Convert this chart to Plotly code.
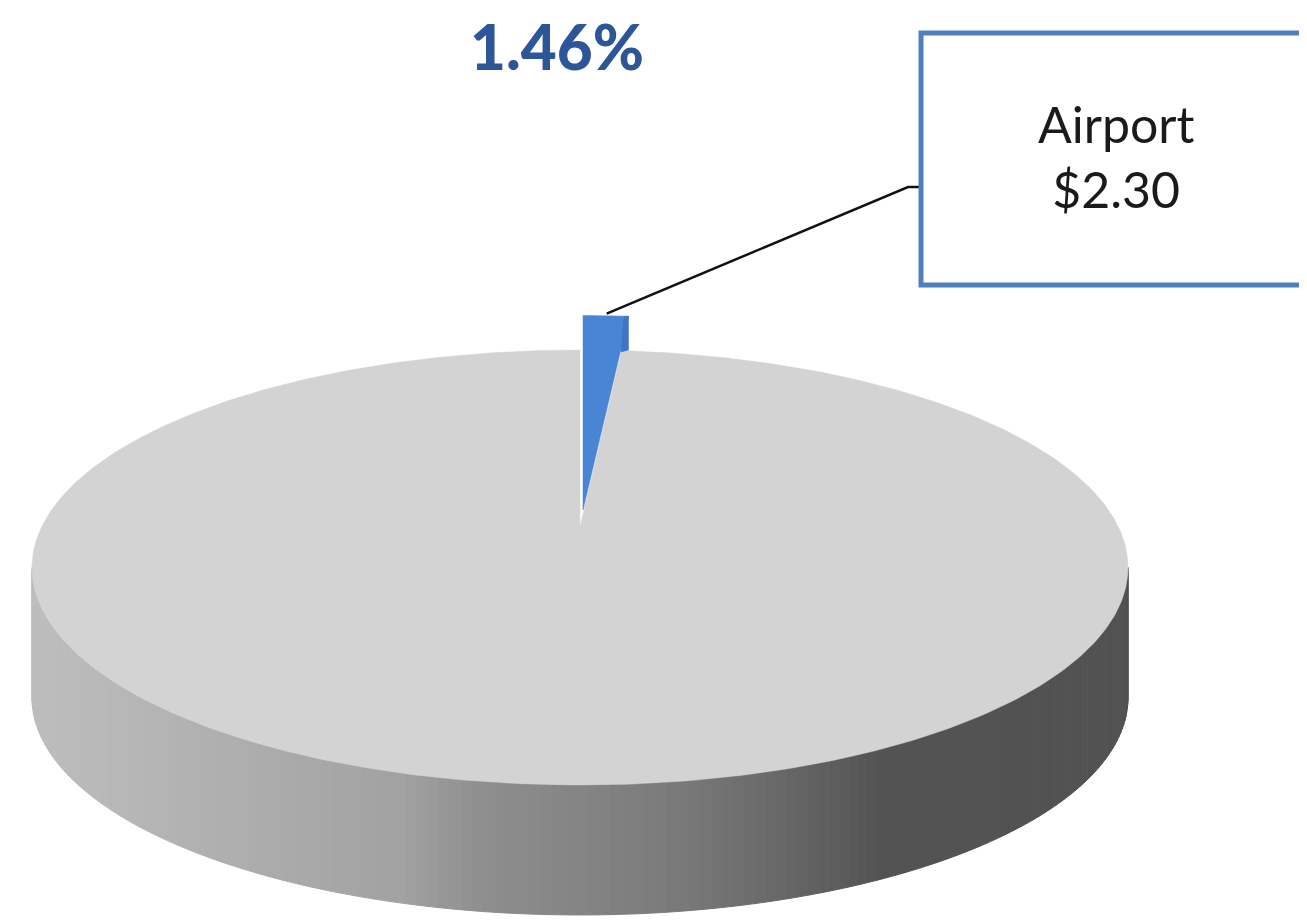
import numpy as np
import plotly.graph_objects as go

# ---------------------------------------------------------------
# data
# ---------------------------------------------------------------
categories = ["Airport", "Other"]
values = [2.30, 155.23]          # Airport is 1.46% of the total
slice_colors = ["#4a85d5", "#d3d3d3"]

total = sum(values)
fracs = [v / total for v in values]
pct_label = f"{fracs[0] * 100:.2f}%"
value_label = f"{categories[0]}<br>${values[0]:.2f}"

# ---------------------------------------------------------------
# 3d pie geometry (perspective view of a flat cylinder, pixel space)
# ---------------------------------------------------------------
W, H = 1307, 923
PAD = 8           # page body margin, so data units == page pixels
CX = 580          # screen x of pie centre
CY = 527          # screen y of pie centre (projected)
K = 0.1862        # perspective strength
T = -111.8
S = 538.4
DEPTH = 130       # thickness of the pie in px
BLUE_SCALE = 1.12
BLUE_DX, BLUE_LIFT = 3, 17


def proj(X, Z):
    w = 1 + K * Z
    return CX + S * X / w, (CY + T * Z) / w


def arc(a0, a1, r=1.0, n=200):
    phi = np.linspace(a0, a1, n)
    return proj(r * np.sin(phi), r * np.cos(phi))


def side_shade(x):
    stops_x = [32, 400, 480, 680, 800, 880, 1128]
    stops_g = [190, 162, 143, 122, 100, 84, 82]
    g = int(np.interp(x, stops_x, stops_g))
    return f"rgb({g},{g},{g})"


fig = go.Figure()

# side wall of the big slice (front half only is visible)
phi_a = np.arccos(-K)
phi_b = 2 * np.pi - phi_a
edges = np.linspace(phi_a, phi_b, 160)
for p0, p1 in zip(edges[:-1], edges[1:]):
    x0, y0 = proj(np.sin(p0), np.cos(p0))
    x1, y1 = proj(np.sin(p1), np.cos(p1))
    col = side_shade((x0 + x1) / 2)
    fig.add_trace(go.Scatter(
        x=[x0, x1, x1, x0, x0], y=[y0, y1, y1 + DEPTH, y0 + DEPTH, y0],
        mode="lines", fill="toself", fillcolor=col,
        line=dict(color=col, width=1), hoverinfo="skip", showlegend=False))

# top face of the big (grey) slice
start = 2 * np.pi * fracs[0]
gx, gy = arc(start, 2 * np.pi, n=500)
cx0, cy0 = proj(0, 0)
fig.add_trace(go.Scatter(
    x=np.r_[cx0, gx, cx0], y=np.r_[cy0, gy, cy0],
    mode="lines", fill="toself", fillcolor=slice_colors[1],
    line=dict(color=slice_colors[1], width=0.5),
    name=categories[1], hoverinfo="name"))

# exploded airport slice
bx, by = arc(0, start, r=BLUE_SCALE, n=30)
bx, by = bx + BLUE_DX, by - BLUE_LIFT
fig.add_trace(go.Scatter(
    x=np.r_[cx0 + BLUE_DX, bx, cx0 + BLUE_DX],
    y=np.r_[cy0 - BLUE_LIFT, by, cy0 - BLUE_LIFT],
    mode="lines", fill="toself", fillcolor=slice_colors[0],
    line=dict(color=slice_colors[0], width=0.5),
    name=categories[0], hoverinfo="name"))
# thin darker cut face on the right of the slice
fig.add_trace(go.Scatter(
    x=[bx[-1], bx[-1] - 5, bx[-1] - 8, bx[-1], bx[-1]],
    y=[by[-1], by[-1], by[-1] + 36, by[-1] + 34, by[-1]],
    mode="lines", fill="toself", fillcolor="#3f74c4",
    line=dict(width=0), hoverinfo="skip", showlegend=False))

# leader line from slice to callout box
mx, my = bx[len(bx) // 2], by[len(by) // 2] - 2
BOX = dict(x0=921, y0=33, x1=1320, y1=285)
elbow_x, elbow_y = 908, 187
fig.add_trace(go.Scatter(
    x=[mx, elbow_x, BOX["x0"]], y=[my, elbow_y, elbow_y],
    mode="lines", line=dict(color="#111111", width=2.5),
    hoverinfo="skip", showlegend=False))

fig.add_shape(type="rect", xref="x", yref="y", **BOX,
              line=dict(color="#4f7fbf", width=5), fillcolor="white")

fig.add_annotation(x=1116, y=156, text=value_label,
                   showarrow=False, xref="x", yref="y",
                   font=dict(family="Lato", size=50, color="#1a1a1a"))

fig.add_annotation(x=557, y=46, text=pct_label, showarrow=False,
                   xref="x", yref="y",
                   font=dict(family="Lato", size=62, weight=900,
                             color="#2c5698"))

fig.update_layout(
    width=W, height=H,
    margin=dict(l=0, r=0, t=0, b=0),
    paper_bgcolor="white", plot_bgcolor="white",
    showlegend=False,
    xaxis=dict(range=[PAD, W + PAD], visible=False, fixedrange=True),
    yaxis=dict(range=[H + PAD, PAD], visible=False, fixedrange=True),
)

fig.write_html("out.html")
